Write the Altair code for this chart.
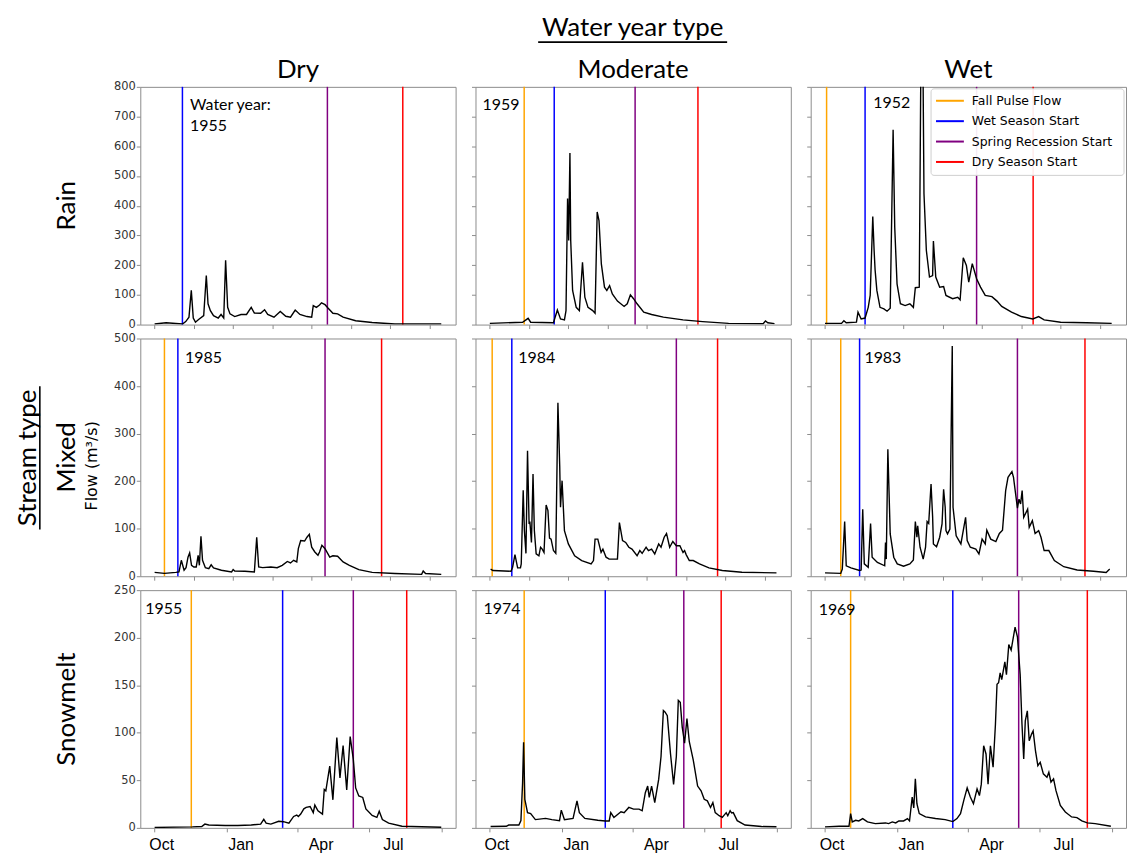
import altair as alt
import pandas as pd

# ---------------- data ----------------
EVENTS = ["Fall Pulse Flow", "Wet Season Start", "Spring Recession Start", "Dry Season Start"]
EVENT_COLORS = ["#FFA500", "#0000FF", "#800080", "#FF0000"]
ROW_NAMES = ["Rain", "Mixed", "Snowmelt"]
COL_NAMES = ["Dry", "Moderate", "Wet"]
YEARS = [["1955", "1959", "1952"], ["1985", "1984", "1983"], ["1955", "1974", "1969"]]
Y_MAX = [800, 500, 250]
Y_STEP = [100, 100, 50]
DAY_TICKS = [0, 50, 100, 150, 200, 250, 300, 350]
MONTH_TICKS = [0, 92, 182, 273, 365]
MONTH_LABELS = ["Oct", "Jan", "Apr", "Jul"]
MONTH_LABEL_DAYS = [9, 110, 212, 304]

# event days (Fall pulse, Wet season, Spring recession, Dry season); None = absent
rain_dry_events = [None, 35.4, 220, 316]
rain_mod_events = [43.75, 82, 185, 265]
rain_wet_events = [2, 51, 193, 265]
mixed_dry_events = [12.5, 29.6, 217, 289]
mixed_mod_events = [3, 28, 237.5, 290]
mixed_wet_events = [20, 44, 245, 331]
snow_dry_events = [46.7, 163, 253, 321]
snow_mod_events = [43.75, 147, 247, 294.6]
snow_wet_events = [32.6, 162.7, 246.6, 334]

# (day of water year, flow m3/s)
rain_dry = [(0, 2), (14.6, 6), (35.4, 2), (39.6, 10), (43.75, 25), (46.7, 115), (49.2, 22), (52, 8),
            (56, 17), (62.5, 30), (65.8, 165), (68, 70), (71, 47), (75, 30), (81, 22), (84.6, 34),
            (88, 22), (90.4, 216), (93, 58), (96, 36), (102, 27), (110, 34), (117, 34), (123, 58),
            (127, 39), (135, 38), (140, 50), (144, 34), (152, 25), (160, 44), (167, 28), (173, 25),
            (179, 49), (185, 34), (194, 27), (200, 25), (202, 64), (206, 58), (210, 66), (212.5, 73),
            (217, 67), (221, 55), (227, 38), (233, 36), (240, 25), (256, 13), (277, 7), (306, 2),
            (365, 2)]
rain_mod = [(0, 4), (41.7, 8), (48.75, 21), (52, 8), (81, 6), (86, 49), (90, 19), (95, 16), (97, 47),
            (99, 424), (100.4, 283), (102, 577), (103, 283), (105.4, 115), (110, 58), (114, 47),
            (118, 210), (121, 92), (125, 58), (131, 47), (134, 38), (136.7, 379), (139, 350),
            (142, 204), (146, 126), (149, 115), (152.5, 131), (156, 103), (162.5, 79), (171, 61),
            (175, 70), (179, 100), (183, 87), (187.5, 70), (196, 42), (206, 34), (221, 25), (246, 16),
            (271, 10), (304, 4), (348, 3), (351, 12), (354, 6), (362.5, 3)]
rain_wet = [(0, 4), (21, 4), (24, 13), (27, 6), (40, 8), (42, 42), (46, 19), (51, 22), (55, 58),
            (57.5, 98), (60.8, 364), (62.5, 250), (63.75, 184), (66, 115), (70, 58), (75, 53),
            (79, 45), (83, 55), (86.7, 656), (88.75, 328), (91.7, 137), (96, 70), (102, 64),
            (108, 70), (112.5, 58), (115, 124), (120, 126), (122.5, 1050), (124.5, 950), (126, 440),
            (129, 250), (133, 160), (137, 165), (138, 281), (141, 160), (146, 126), (151, 128),
            (154, 98), (162.5, 87), (169, 92), (172, 83), (176, 225), (180, 199), (183, 143),
            (187.5, 205), (193, 154), (198, 126), (204, 98), (212.5, 94), (219, 79), (225, 61),
            (237.5, 42), (250, 27), (264.6, 19), (272, 27), (279, 16), (300, 8), (333, 6), (365, 4)]
mixed_dry = [(0, 8), (12.5, 6), (27, 8), (31, 9), (34, 33.5), (37.5, 12.5), (40, 18), (42.5, 40),
             (44.6, 49), (47, 23), (50, 19.5), (53, 19.5), (55.4, 44), (57, 23), (59, 84), (61, 33.5),
             (64.6, 18), (69, 16), (72, 24), (75, 17.5), (85, 12.5), (98, 9), (100, 14), (102, 11),
             (115, 10.5), (127, 9), (130, 82), (132.5, 19.5), (137.5, 18), (148, 19.5), (156, 18),
             (162.5, 23), (169, 31), (173, 28), (177, 33.5), (181, 30), (183, 58), (186, 75),
             (191, 74), (194, 82), (197, 88), (200, 61), (204, 51), (208, 44), (210, 51), (213, 65),
             (217, 58), (223, 40), (227, 43), (233, 42), (240, 30), (248, 23), (260, 14), (277, 8),
             (306, 5.6), (340, 4), (342, 11), (345, 5.6), (365, 4)]
mixed_mod = [(1, 15), (4, 12), (27, 10.5), (29, 19), (32, 45.5), (35.4, 17.5), (39, 17.5), (40, 26),
             (42.5, 181), (44, 96), (46, 48), (48, 264), (50, 110), (51, 115), (53, 71), (55, 215),
             (56.7, 96), (59, 47), (62.5, 43), (64.6, 61), (66.7, 57), (69, 50), (71.7, 150),
             (74, 138), (76, 80), (78, 78), (81, 54), (84, 48), (86.7, 365), (89, 232), (90, 145),
             (92, 201), (95, 96), (100, 68), (108, 43), (117, 33), (129, 26), (132, 33), (134, 78),
             (137.5, 78), (141.7, 50), (144, 57), (148, 40), (152, 36), (162.5, 36), (165, 113),
             (169, 75), (173, 71), (177, 61), (181, 57), (187.5, 43), (191, 54), (194, 48), (199, 61),
             (202, 54), (206, 57), (210, 47), (215, 68), (218, 61), (222, 82), (225, 90), (229, 61),
             (233, 73), (237.5, 64), (242, 64), (246, 50), (248, 54), (250, 45.5), (254, 33),
             (259, 33), (267, 26), (279, 17.5), (296, 12), (321, 8.4), (365, 7)]
mixed_wet = [(0, 7), (20, 6), (22, 15), (25, 115), (27, 22), (33, 17.5), (44, 12), (46, 13), (48, 141),
             (50, 26), (55, 19), (58, 111), (60, 40), (66.7, 29), (76, 22), (77, 71), (78, 36),
             (80, 267), (83, 89), (87.5, 40), (92, 26), (100, 21), (108, 26), (112.5, 34), (115, 115),
             (117, 82), (118, 106), (121, 61), (125, 36), (128, 61), (130, 115), (132, 111), (135, 194),
             (137, 125), (138, 68), (142, 62), (146, 82), (149, 110), (151, 183), (153, 145), (154, 96),
             (156, 89), (159, 99), (162, 484), (163, 145), (167, 85), (173, 68), (179, 124), (181, 75),
             (185, 61), (192, 57), (196, 47), (200, 78), (204, 68), (206, 97), (211, 78), (217.5, 73),
             (222, 90), (226, 97), (230, 180), (233, 208), (238, 220), (240, 208), (245, 143),
             (247, 162), (249, 152), (251, 180), (253, 124), (258, 141), (260, 103), (264, 117),
             (267.5, 90), (272, 96), (275, 82), (279, 54), (285, 54), (292, 33), (304, 20), (321, 13),
             (342, 10.5), (358, 8), (362.5, 15)]
snow_dry = [(0, 0.5), (48, 1), (60, 1.5), (64, 4), (69, 3), (90, 2.5), (106, 2.5), (123, 3), (135, 4),
            (139, 9), (142, 5), (148, 4), (158, 7), (164, 6.5), (171, 5), (177, 12), (181, 13.5),
            (183, 12), (186, 14.5), (190, 20), (193, 21.5), (198, 22.5), (202, 16), (204, 24),
            (208, 18), (213.75, 14.5), (216, 40.5), (218, 39), (223, 65), (227, 29.5), (232, 95),
            (236, 52.6), (240, 86.5), (244.6, 40), (249, 96), (253, 72), (256, 42), (260, 33.6),
            (265, 32), (269, 20), (277, 13), (283, 11), (286, 17.5), (290, 8.7), (298, 5), (315, 1.7),
            (365, 0.7)]
snow_mod = [(1, 1.4), (21, 1.7), (24, 3), (37, 3), (39.6, 7.6), (41.7, 47), (43, 90), (44.6, 30),
            (48, 16), (52, 15), (58, 8.7), (71, 10), (79, 8.7), (88.75, 7.6), (91, 18.7), (95, 8.7),
            (106, 10), (111, 28.4), (114, 16), (121, 10), (137.5, 8), (147, 7.3), (152, 7.3), (154, 16),
            (158, 11), (167, 17), (171, 16), (177, 21.5), (183, 19.7), (190, 19.7), (194, 18), (198, 37),
            (201, 44), (203, 32), (206, 44), (210, 26.6), (215, 51), (218, 75), (221, 123.5), (223, 122),
            (226, 118), (230, 78.5), (234, 45.7), (237.5, 75), (240, 134), (242.5, 132), (245, 106),
            (248, 89), (251, 115), (254, 90.6), (259, 71.6), (264.6, 44), (269, 39), (273, 30),
            (277, 28.4), (281, 21.5), (284, 26.6), (287, 16), (292, 12.8), (296, 11), (301, 16),
            (303, 12.8), (306, 18), (308, 15.6), (310, 16), (315, 7.6), (325, 3), (346, 1.4), (365, 1.2)]
snow_wet = [(0, 1), (18, 1.7), (30.5, 1.7), (32.6, 15), (34.7, 6.3), (39, 8), (43, 7.3), (48, 9.8),
            (54, 6.3), (64, 4.5), (77, 5.2), (81, 4.5), (85.6, 6.3), (90, 5.2), (94, 7.3), (100, 7.3),
            (105, 9.8), (107.6, 7.3), (111, 32.4), (113, 21), (115, 51.6), (117, 25.4), (120, 15),
            (128, 11.5), (140.7, 9.8), (153, 8.7), (162.7, 6.6), (168, 9.8), (172.5, 15), (176.7, 29),
            (181, 42), (185, 32.4), (189, 25.4), (193.6, 41), (196.6, 34), (199, 46), (202, 86.4),
            (205, 77.7), (207.6, 46), (210.6, 86.4), (214, 63.8), (217, 109), (219, 151), (221, 152.6),
            (223, 163), (225, 156), (229, 174.5), (231, 161), (234, 192.7), (237, 187), (242, 211),
            (245, 201), (248.5, 161), (250.8, 109), (253, 72.5), (255, 112.5), (257.6, 123), (260, 91.6),
            (263, 98.6), (265, 102), (268, 81), (271, 65.5), (274, 69), (278, 56.8), (282.6, 53.3),
            (285, 58.5), (287.7, 48), (291, 51.6), (294, 39.4), (299.6, 23.7), (306, 16.7), (314, 11.5),
            (320.8, 10.8), (327, 7.3), (334, 5.2), (344, 4.5), (364, 1.7)]

SERIES = [[rain_dry, rain_mod, rain_wet], [mixed_dry, mixed_mod, mixed_wet], [snow_dry, snow_mod, snow_wet]]
EVENT_DAYS = [[rain_dry_events, rain_mod_events, rain_wet_events],
              [mixed_dry_events, mixed_mod_events, mixed_wet_events],
              [snow_dry_events, snow_mod_events, snow_wet_events]]

# ---------------- layout / style ----------------
W, H = 317, 239
X_DOMAIN = [-18.25, 383.25]
HEAD_FONT = "Lato"
YEAR_POS = [[(50, 39), (7, 18), (63, 16)], [(45, 20), (43, 20), (54, 20)], [(5, 19), (8, 19), (8, 20)]]

color_scale = alt.Scale(domain=EVENTS, range=EVENT_COLORS)


def text_layer(txt, x, y, **kw):
    return alt.Chart(pd.DataFrame({"t": [txt]})).mark_text(color="black", **kw).encode(
        text="t:N", x=alt.value(x), y=alt.value(y))


def make_panel(r, c):
    x_scale = alt.Scale(domain=X_DOMAIN, nice=False, zero=False)
    y_scale = alt.Scale(domain=[0, Y_MAX[r]], nice=False)
    x_vals = MONTH_TICKS if r == 2 else DAY_TICKS
    x_enc = alt.X("day:Q", scale=x_scale,
                  axis=alt.Axis(values=x_vals, labels=False, title=None, grid=False, domain=False))
    y_enc = alt.Y("flow:Q", scale=y_scale,
                  axis=alt.Axis(values=list(range(0, Y_MAX[r] + 1, Y_STEP[r])), labels=(c == 0),
                                title=None, grid=False, domain=False))
    df = pd.DataFrame(SERIES[r][c], columns=["day", "flow"])
    ev = pd.DataFrame({"event": EVENTS, "day": EVENT_DAYS[r][c]}).dropna()

    rules = alt.Chart(ev).mark_rule(strokeWidth=1.5).encode(
        x=alt.X("day:Q", scale=x_scale),
        color=alt.Color("event:N", scale=color_scale, legend=None),
    )
    line = alt.Chart(df).mark_line(color="black", strokeWidth=1.4, clip=True).encode(x=x_enc, y=y_enc)
    layers = [rules, line]

    # year annotation
    yx, yy = YEAR_POS[r][c]
    layers.append(text_layer(YEARS[r][c], yx, yy, font=HEAD_FONT, fontSize=16, align="left", baseline="middle"))
    if r == 0 and c == 0:
        layers.append(text_layer("Water year:", 50, 18, font=HEAD_FONT, fontSize=16, align="left", baseline="middle"))

    # column headers
    if r == 0:
        layers.append(text_layer(COL_NAMES[c], W / 2, -9, font=HEAD_FONT, fontSize=26,
                                 align="center", baseline="alphabetic"))
    if r == 0 and c == 1:
        layers.append(text_layer("Water year type", 158, -51, font=HEAD_FONT, fontSize=26,
                                 align="center", baseline="alphabetic"))
        layers.append(alt.Chart(pd.DataFrame({"t": [0]})).mark_rule(color="black", strokeWidth=1.6).encode(
            x=alt.value(63), x2=alt.value(253), y=alt.value(-45)))

    # legend (top-right panel)
    if r == 0 and c == 2:
        layers.append(alt.Chart(pd.DataFrame({"t": [0]})).mark_rect(
            fill="white", fillOpacity=0.92, stroke="#cfcfcf", strokeWidth=1, cornerRadius=3).encode(
            x=alt.value(121), x2=alt.value(315), y=alt.value(2), y2=alt.value(89)))
        for i, (name, col) in enumerate(zip(EVENTS, EVENT_COLORS)):
            yc = 14 + 20.5 * i
            layers.append(alt.Chart(pd.DataFrame({"t": [name]})).mark_rule(color=col, strokeWidth=2).encode(
                x=alt.value(126), x2=alt.value(154), y=alt.value(yc)))
            layers.append(text_layer(name, 162, yc, font="DejaVu Sans", fontSize=12.5, align="left",
                                     baseline="middle"))

    # row headers
    if c == 0:
        layers.append(text_layer(ROW_NAMES[r], -74, H / 2, font=HEAD_FONT, fontSize=26, angle=270,
                                 align="center", baseline="middle"))
    if c == 0 and r == 1:
        layers.append(text_layer("Flow (m³/s)", -49, 128, font="DejaVu Sans", fontSize=16, angle=270,
                                 align="center", baseline="middle"))
        layers.append(text_layer("Stream type", -113, 120, font=HEAD_FONT, fontSize=26, angle=270,
                                 align="center", baseline="middle"))
        layers.append(alt.Chart(pd.DataFrame({"t": [0]})).mark_rule(color="black", strokeWidth=1.6).encode(
            x=alt.value(-101), y=alt.value(48), y2=alt.value(192)))

    # month labels under the bottom row
    if r == 2:
        layers.append(alt.Chart(pd.DataFrame({"m": MONTH_LABELS, "day": MONTH_LABEL_DAYS})).mark_text(
            font="Liberation Sans", fontSize=16, align="center", baseline="middle", color="black").encode(
            text="m:N", x=alt.X("day:Q", scale=x_scale), y=alt.value(H + 17)))

    return alt.layer(*layers).properties(width=W, height=H)


panels = [make_panel(r, c) for r in range(3) for c in range(3)]

chart = alt.concat(*panels, columns=3, spacing={"row": 14, "column": 20}, bounds="flush").properties(
    padding={"left": 6, "top": 4, "right": 0, "bottom": 0},
    background="white",
).configure_view(
    stroke="#8c8c8c", strokeWidth=1
).configure_axis(
    labelFont="DejaVu Sans", labelFontSize=11.5, labelColor="#333333",
    tickColor="#8c8c8c", tickSize=4, domain=False, grid=False, labelPadding=1
)

chart.save("out.html", embed_options={"renderer": "svg", "actions": False})
